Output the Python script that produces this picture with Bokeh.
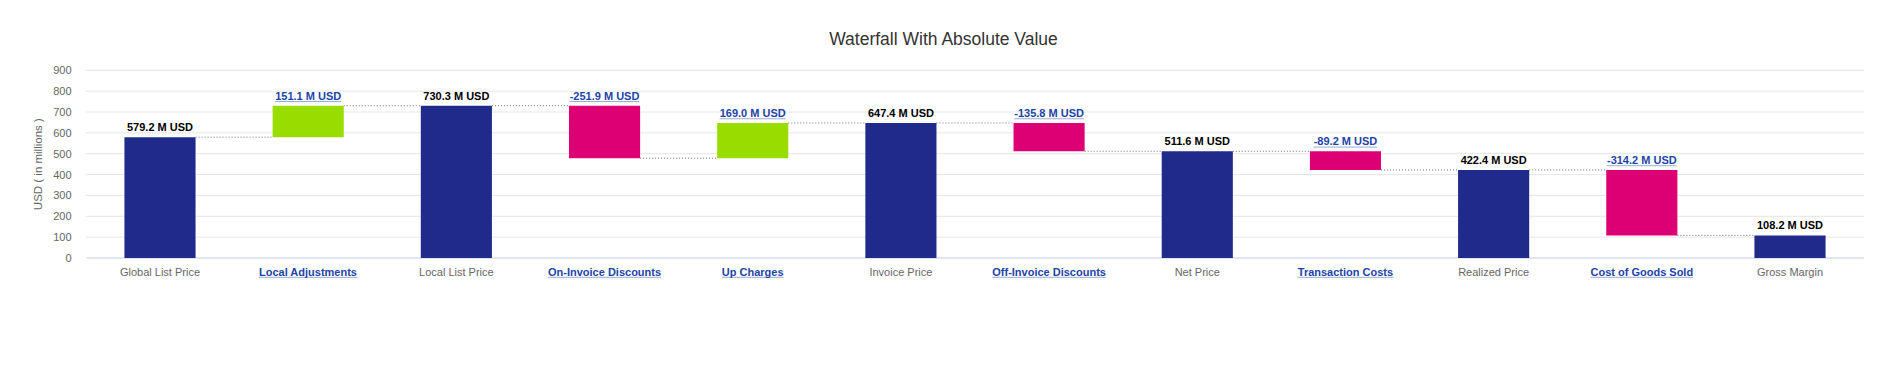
import math
from bokeh.plotting import figure
from bokeh.models import ColumnDataSource, Range1d, LabelSet, Label
from bokeh.core.properties import value
from bokeh.embed import file_html
from bokeh.resources import INLINE

# ---- data ----
categories = ["Global List Price", "Local Adjustments", "Local List Price",
              "On-Invoice Discounts", "Up Charges", "Invoice Price",
              "Off-Invoice Discounts", "Net Price", "Transaction Costs",
              "Realized Price", "Cost of Goods Sold", "Gross Margin"]
values = [579.2, 151.1, 730.3, -251.9, 169.0, 647.4, -135.8, 511.6, -89.2, 422.4, -314.2, 108.2]
is_total = [True, False, True, False, False, True, False, True, False, True, False, True]
y_ticks = [0, 100, 200, 300, 400, 500, 600, 700, 800, 900]
title_text = "Waterfall With Absolute Value"
y_title = "USD ( in millions )"

# ---- styles / layout ----
NAVY = "#1f2a8a"
GREEN = "#99dd00"
PINK = "#dd0074"
LINK = "#1d44a6"
FONT = "Liberation Sans"
BAR_W = 0.48
W, H = 1871, 366
PLOT_L, PLOT_R = 85.4, 1863.6      # pixel edges of plot area
PY_TOP, PY_ZERO = 69.8, 257.5      # pixel rows of y max and y = 0
Y_MAX = 900.0
N = len(categories)

xs_px = (PLOT_R - PLOT_L) / N               # px per category
ys_px = (PY_ZERO - PY_TOP) / Y_MAX          # px per unit
x_start = -0.5 - PLOT_L / xs_px
x_end = N - 0.5 + (W - PLOT_R) / xs_px
y_start = -(H - PY_ZERO) / ys_px
y_end = Y_MAX + PY_TOP / ys_px


def px_x(px):
    return x_start + px / xs_px


def px_y(py):
    return y_end - py / ys_px


# Arial/Liberation Sans Bold advance widths (1/1000 em) for underline lengths
BOLD_W = {" ": 278, "-": 333, ".": 278, "A": 722, "C": 722, "D": 722, "G": 778,
          "I": 278, "L": 611, "M": 833, "O": 778, "S": 667, "T": 611, "U": 722,
          "a": 556, "b": 611, "c": 556, "d": 611, "e": 556, "f": 333, "g": 611,
          "h": 611, "i": 278, "j": 278, "k": 556, "l": 278, "m": 889, "n": 611,
          "o": 611, "p": 611, "r": 389, "s": 556, "t": 333, "u": 611, "v": 556,
          "w": 778, "x": 556, "y": 556, "z": 500}
for d in "0123456789":
    BOLD_W[d] = 556


def text_w(s, size):
    return sum(BOLD_W.get(ch, 556) for ch in s) / 1000.0 * size


FS = 11
LABEL_OFF = 6      # baseline of value labels above bar top (px)
CAT_OFF = 17.5     # baseline of category labels below zero (px)

# ---- waterfall computation ----
xs, bottoms, tops, colors, ltxt, lcol, ccol, cstyle, levels = [], [], [], [], [], [], [], [], []
ul_x0, ul_x1, ul_y = [], [], []
running = 0.0
for i, (c, v, t) in enumerate(zip(categories, values, is_total)):
    if t:
        b, tp = 0.0, v
        running = v
        colors.append(NAVY)
        lcol.append("#000000")
        ccol.append("#666666")
        cstyle.append("normal")
    else:
        b, tp = running, running + v
        running = running + v
        colors.append(GREEN if v >= 0 else PINK)
        lcol.append(LINK)
        ccol.append(LINK)
        cstyle.append("bold")
    txt = f"{v:.1f} M USD"
    xs.append(i)
    bottoms.append(min(b, tp))
    tops.append(max(b, tp))
    ltxt.append(txt)
    levels.append(running)
    if not t:
        # underline of value label
        hw = text_w(txt, FS) / 2 / xs_px
        ul_x0.append(i - hw)
        ul_x1.append(i + hw)
        ul_y.append(max(b, tp) + (LABEL_OFF - 1.8) / ys_px)
        # underline of category label
        hw = text_w(c, FS) / 2 / xs_px
        ul_x0.append(i - hw)
        ul_x1.append(i + hw)
        ul_y.append(-(CAT_OFF + 1.8) / ys_px)

src = ColumnDataSource(dict(x=xs, bottom=bottoms, top=tops, color=colors,
                            ly=tops, ltxt=ltxt, lcol=lcol,
                            cat=categories, ccol=ccol, cstyle=cstyle,
                            zero=[0] * N))

conn = ColumnDataSource(dict(
    x0=[i + BAR_W / 2 for i in range(N - 1)],
    x1=[i + 1 - BAR_W / 2 for i in range(N - 1)],
    y=levels[:-1]))

grid = ColumnDataSource(dict(
    x0=[-0.5] * len(y_ticks), x1=[N - 0.5] * len(y_ticks), y=y_ticks,
    lab=[str(t) for t in y_ticks]))

ul = ColumnDataSource(dict(x0=ul_x0, x1=ul_x1, y=ul_y))

p = figure(width=W, height=H,
           x_range=Range1d(x_start, x_end), y_range=Range1d(y_start, y_end),
           output_backend="svg", toolbar_location=None,
           min_border=0, min_border_left=0, min_border_right=0,
           min_border_top=0, min_border_bottom=0)
p.outline_line_color = None
p.background_fill_color = "white"
p.border_fill_color = "white"
p.axis.visible = False
p.grid.visible = False

# grid lines
p.segment(x0="x0", y0="y", x1="x1", y1="y", source=grid,
          line_color="#e6e6e6", line_width=1)
# baseline
p.segment(x0=[-0.5], y0=[0], x1=[N - 0.5], y1=[0], line_color="#ccd6eb", line_width=1)

# tick labels
p.add_layout(LabelSet(x="x0", y="y", text="lab", source=grid,
                      text_align="right", text_baseline="middle", x_offset=-14.4,
                      text_font=value(FONT), text_font_size="11px",
                      text_color="#666666"))

# connectors
p.segment(x0="x0", y0="y", x1="x1", y1="y", source=conn,
          line_color="#777777", line_width=1, line_dash="1 2")

# bars
p.vbar(x="x", bottom="bottom", top="top", width=BAR_W, source=src,
       fill_color="color", line_color=None)

# value labels
p.add_layout(LabelSet(x="x", y="ly", text="ltxt", source=src,
                      text_align="center", text_baseline="alphabetic", y_offset=LABEL_OFF,
                      text_font=value(FONT), text_font_size=f"{FS}px", text_font_style="bold",
                      text_color="lcol"))

# category labels
p.add_layout(LabelSet(x="x", y="zero", text="cat", source=src,
                      text_align="center", text_baseline="alphabetic", y_offset=-CAT_OFF,
                      text_font=value(FONT), text_font_size=f"{FS}px", text_font_style="cstyle",
                      text_color="ccol"))

# underlines of link-style texts
p.segment(x0="x0", y0="y", x1="x1", y1="y", source=ul,
          line_color=LINK, line_alpha=0.45, line_width=1)

# title
p.add_layout(Label(x=px_x(943.5), y=px_y(38.5), text=title_text,
                   text_align="center", text_baseline="middle",
                   text_font=FONT, text_font_size="17.5px", text_color="#333333"))

# y axis title
p.add_layout(Label(x=px_x(37.5), y=Y_MAX / 2, text=y_title, angle=math.pi / 2,
                   text_align="center", text_baseline="middle",
                   text_font=FONT, text_font_size="11.5px", text_color="#666666"))

open("out.html", "w").write(file_html(p, INLINE))
